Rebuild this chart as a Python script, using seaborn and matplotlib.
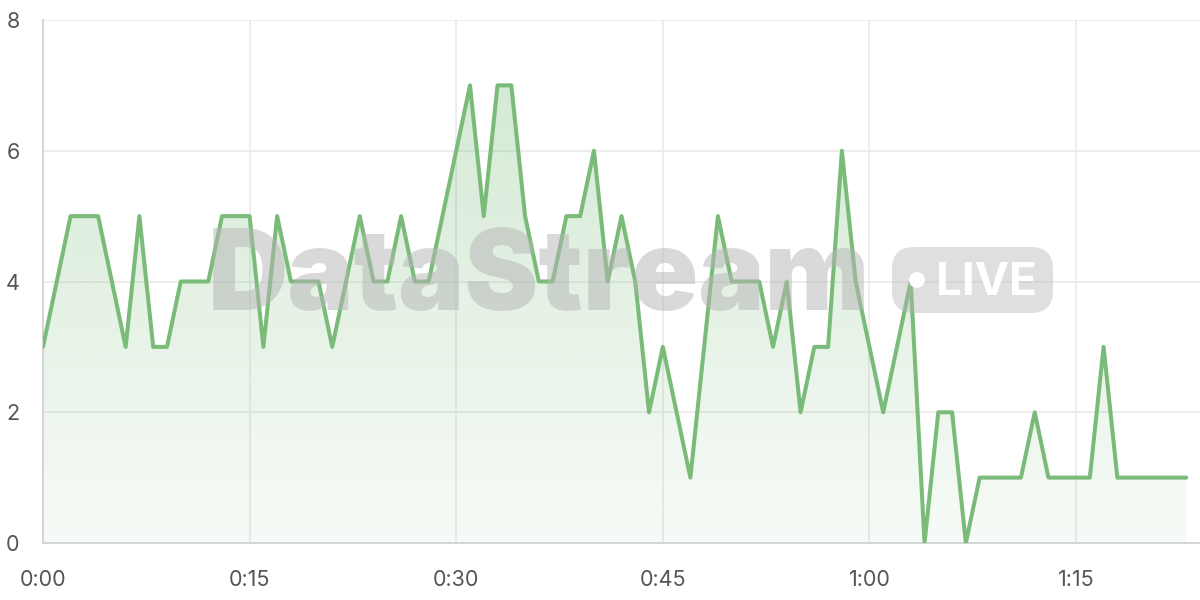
import numpy as np
import pandas as pd
import matplotlib
matplotlib.use("Agg")
import matplotlib.pyplot as plt
import seaborn as sns
from matplotlib.patches import FancyBboxPatch, Circle

# ---- data ----
minutes = list(range(84))
values = [3, 4, 5, 5, 5, 4, 3, 5, 3, 3,
          4, 4, 4, 5, 5, 5, 3, 5, 4, 4,
          4, 3, 4, 5, 4, 4, 5, 4, 4, 5,
          6, 7, 5, 7, 7, 5, 4, 4, 5, 5,
          6, 4, 5, 4, 2, 3, 2, 1, 3, 5,
          4, 4, 4, 3, 4, 2, 3, 3, 6, 4,
          3, 2, 3, 4, 0, 2, 2, 0, 1, 1,
          1, 1, 2, 1, 1, 1, 1, 3, 1, 1,
          1, 1, 1, 1]
x_ticks = [0, 15, 30, 45, 60, 75]
x_tick_labels = ["0:00", "0:15", "0:30", "0:45", "1:00", "1:15"]
y_ticks = [0, 2, 4, 6, 8]
watermark = "DataStream"
badge = "LIVE"

df = pd.DataFrame({"minute": minutes, "value": values})

sns.set_theme(style="white")
plt.rcParams["font.family"] = ["Inter", "DejaVu Sans"]

line_color = "#7abb7a"
grid_color = "#e8e8e8"
spine_color = "#d2d2d2"
text_color = "#555555"

fig = plt.figure(figsize=(12, 6), dpi=100)
ax = fig.add_axes([43 / 1200, 1 - 543 / 600, 1 - 43 / 1200, (543 - 20) / 600])

# gradient fill under the line
poly = ax.fill_between(df["minute"], df["value"], 0, color="none", lw=0)
grad = np.linspace(0, 1, 256)
rgba = np.zeros((256, 1, 4))
c = matplotlib.colors.to_rgb(line_color)
rgba[:, 0, 0] = c[0]
rgba[:, 0, 1] = c[1]
rgba[:, 0, 2] = c[2]
rgba[:, 0, 3] = 0.06 + 0.26 * grad
im = ax.imshow(rgba, extent=[0, 83, 0, max(values)], origin="lower",
               aspect="auto", zorder=1)
im.set_clip_path(poly.get_paths()[0], transform=ax.transData)

sns.lineplot(data=df, x="minute", y="value", color=line_color,
             linewidth=2.9, ax=ax, zorder=4)

ax.set_xlim(0, 84)
ax.set_ylim(0, 8)
ax.set_xticks(x_ticks)
ax.set_xticklabels(x_tick_labels)
ax.set_yticks(y_ticks)
ax.set_yticklabels([str(v) for v in y_ticks])
ax.set_xlabel("")
ax.set_ylabel("")

ax.grid(True, color=grid_color, linewidth=1.1, zorder=0)
ax.set_axisbelow(True)
for s in ["top", "right"]:
    ax.spines[s].set_visible(False)
for s in ["left", "bottom"]:
    ax.spines[s].set_color(spine_color)
    ax.spines[s].set_linewidth(1.3)
    ax.spines[s].set_zorder(2)

ax.tick_params(axis="both", colors=grid_color, length=10.8, width=1.1,
               labelcolor=text_color, labelsize=15.5)
ax.tick_params(axis="y", pad=6)
ax.tick_params(axis="x", pad=9)

# watermark (inch coordinates, 100 px per inch)
tr = fig.dpi_scale_trans
fig.text(2.08, 6 - 3.10, watermark, fontsize=80, fontweight=900,
         color="#b4b4b4", alpha=0.5, ha="left", va="baseline",
         family=["Inter", "DejaVu Sans"], transform=tr, zorder=3)
box = FancyBboxPatch((8.92, 6 - 3.13), 1.61, 0.66,
                     boxstyle="round,pad=0,rounding_size=0.22",
                     transform=tr, facecolor="#b4b4b4", alpha=0.42,
                     edgecolor="none", zorder=3)
fig.patches.append(box)
fig.patches.append(Circle((9.17, 6 - 2.80), 0.08, transform=tr,
                          facecolor="white", edgecolor="none", zorder=3.5))
fig.text(9.36, 6 - 2.95, badge, fontsize=33, fontweight="bold", color="white",
         ha="left", va="baseline", family=["Inter", "DejaVu Sans"],
         transform=tr, zorder=3.5)

fig.savefig("out.png", dpi=100)
